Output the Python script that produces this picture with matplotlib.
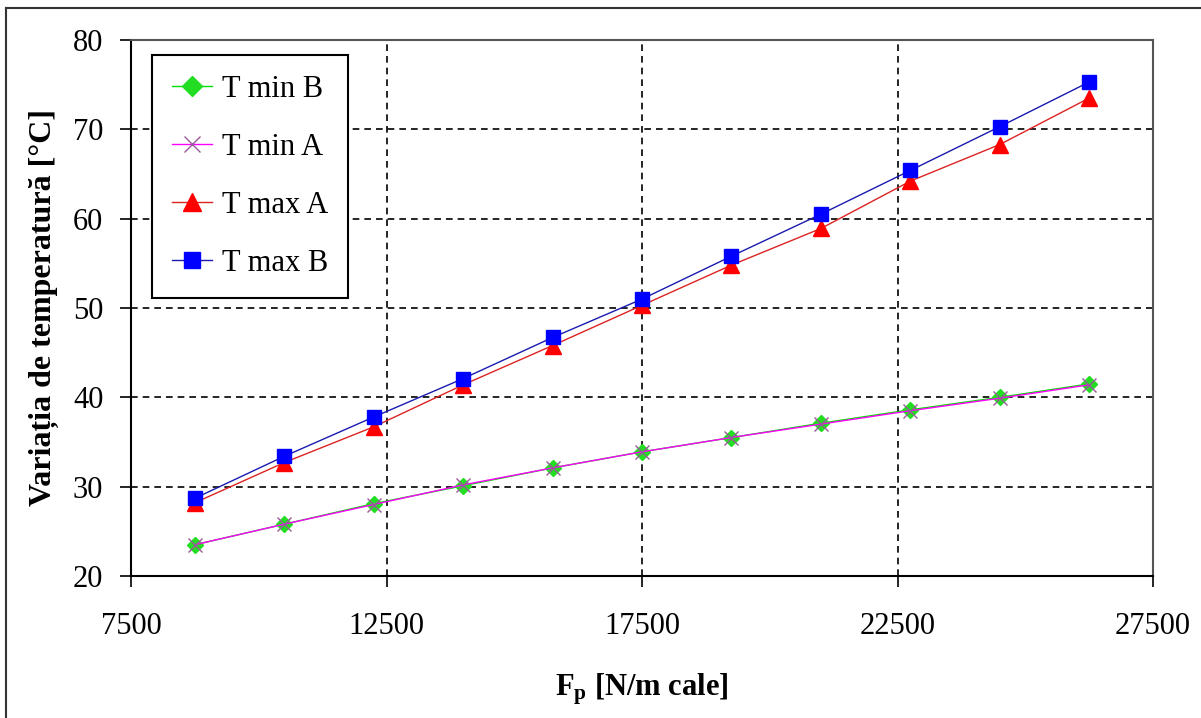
import matplotlib
matplotlib.use("Agg")
import matplotlib.pyplot as plt
from matplotlib.lines import Line2D

# data
fp = [8750, 10500, 12250, 14000, 15750, 17500, 19250, 21000, 22750, 24500, 26250]
t_min_b = [23.5, 25.8, 28.1, 30.1, 32.1, 33.9, 35.5, 37.1, 38.6, 40.0, 41.5]
t_min_a = [23.5, 25.8, 28.0, 30.2, 32.1, 33.9, 35.5, 37.0, 38.5, 39.9, 41.4]
t_max_a = [28.2, 32.7, 36.7, 41.4, 45.8, 50.3, 54.8, 58.9, 64.2, 68.3, 73.5]
t_max_b = [28.7, 33.4, 37.8, 42.1, 46.7, 51.0, 55.8, 60.5, 65.4, 70.3, 75.3]

x_ticks = [7500, 12500, 17500, 22500, 27500]
y_ticks = [20, 30, 40, 50, 60, 70, 80]

plt.rcParams["font.family"] = ["Liberation Serif", "DejaVu Serif"]
plt.rcParams["mathtext.fontset"] = "custom"
plt.rcParams["mathtext.rm"] = "Liberation Serif"
plt.rcParams["mathtext.bf"] = "Liberation Serif:bold"

fig = plt.figure(figsize=(12.01, 7.18), dpi=100)
ax = fig.add_axes([0.1091, 0.1978, 0.8510, 0.7465])

ax.plot(fp, t_min_b, color="#00dd00", lw=1.0, marker="D", ms=8.5,
        mfc="#22dd22", mec="#22dd22", label="T min B", zorder=3)
ax.plot(fp, t_min_a, color="#ff00ff", lw=1.0, marker="x", ms=9.5,
        mew=1.0, mec="#9a5a9a", label="T min A", zorder=4)
ax.plot(fp, t_max_a, color="#dd2222", lw=1.0, marker="^", ms=11,
        mfc="#ff0000", mec="#ff0000", label="T max A", zorder=5)
ax.plot(fp, t_max_b, color="#1a1ab0", lw=1.0, marker="s", ms=10,
        mfc="#0000ff", mec="#0000ff", label="T max B", zorder=6)

ax.set_xlim(7500, 27500)
ax.set_ylim(20, 80)
ax.set_xticks(x_ticks)
ax.set_yticks(y_ticks)
ax.tick_params(axis="both", direction="out", length=8, width=1.2,
               labelsize=22, colors="black")
ax.tick_params(axis="x", pad=18)
ax.tick_params(axis="y", pad=12)

ax.grid(True, color="black", linestyle=(0, (4, 3)), linewidth=1.2)
ax.set_axisbelow(True)

for side in ["left", "bottom"]:
    ax.spines[side].set_color("black")
    ax.spines[side].set_linewidth(1.5)
for side in ["top", "right"]:
    ax.spines[side].set_color("#555555")
    ax.spines[side].set_linewidth(1.5)

ax.set_xlabel(r"$\mathbf{F_p}$ [N/m cale]", fontsize=22, fontweight="bold",
              labelpad=22)
ax.set_ylabel("Variația de temperatură [°C]", fontsize=23,
              fontweight="bold", labelpad=10)

leg = ax.legend(loc="upper left", bbox_to_anchor=(0.0205, 0.972),
                borderaxespad=0, fontsize=22, fancybox=False,
                edgecolor="black", framealpha=1, labelspacing=0.95,
                handlelength=1.3, handletextpad=0.35, borderpad=0.65,
                markerscale=1.15)
leg.get_frame().set_linewidth(1.5)

# outer chart-area border (only top and left visible in the reference)
fig.add_artist(Line2D([6 / 1201, 1], [1 - 8 / 718, 1 - 8 / 718],
                      transform=fig.transFigure, color="#333333", lw=1.5))
fig.add_artist(Line2D([6 / 1201, 6 / 1201], [0, 1 - 8 / 718],
                      transform=fig.transFigure, color="#333333", lw=1.5))

fig.savefig("out.png", dpi=100)
